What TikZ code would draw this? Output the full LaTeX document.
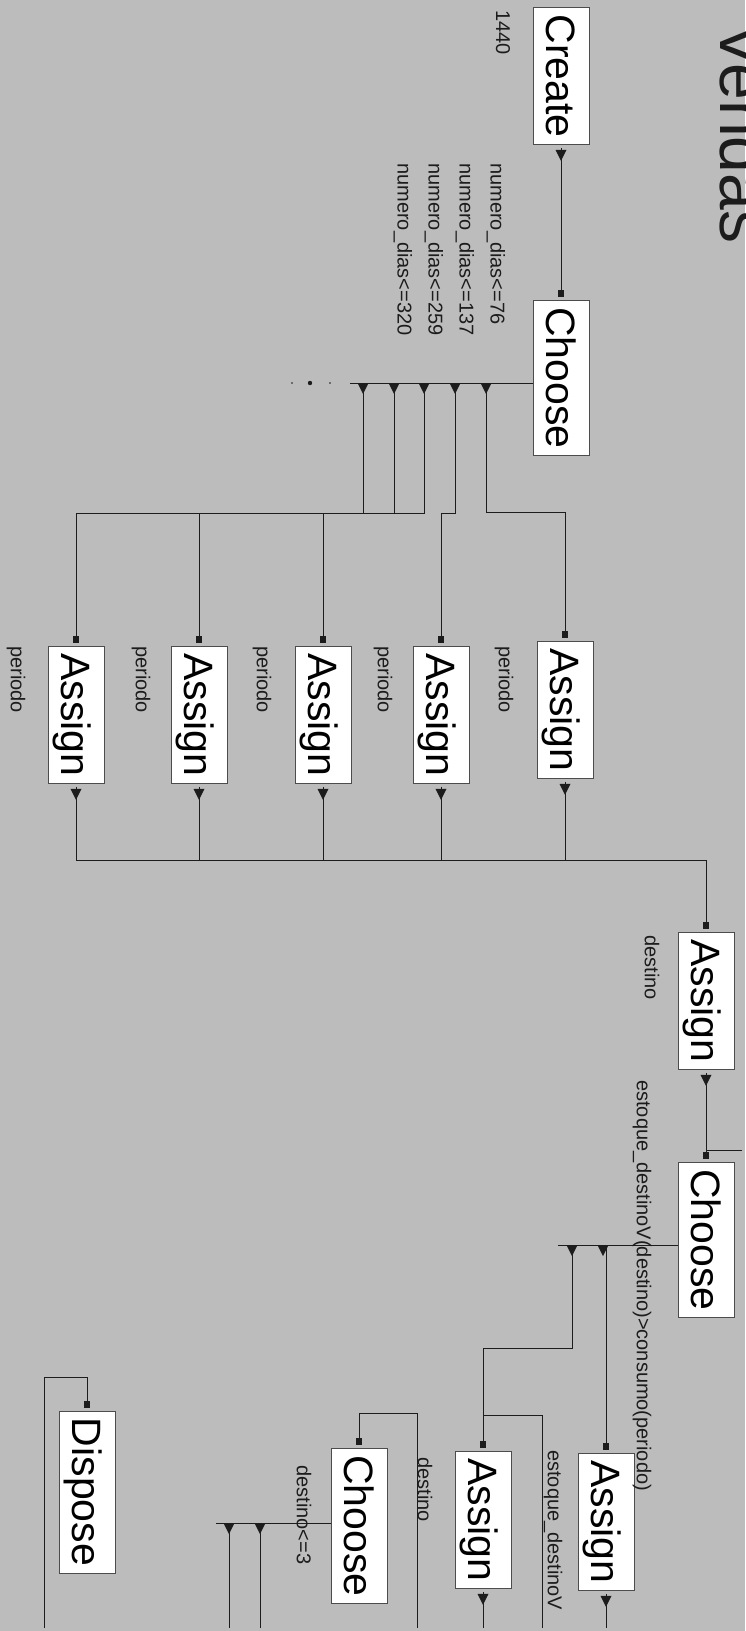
\documentclass[tikz,border=0pt]{standalone}
\usepackage{fontspec}
\setmainfont{Liberation Sans}
\usepackage{xcolor}
\usepackage{tikz}
\usetikzlibrary{calc}
\definecolor{papel}{RGB}{188,188,188}
\definecolor{tinta}{RGB}{28,28,28}
\newcommand{\fmod}{\fontsize{41}{41}\selectfont}
\newcommand{\flbl}{\fontsize{20}{20}\selectfont}
\newcommand{\ftit}{\fontsize{66}{66}\selectfont}

\begin{document}
\begin{tikzpicture}[x=1pt, y=1pt,
		modulo/.style={draw=black!70, line width=0.6pt, fill=white, rotate=-90, font=\fmod,
			inner xsep=7pt, inner ysep=0pt, text height=30pt, text depth=0pt, minimum height=56pt},
		rotulo/.style={rotate=-90, anchor=west, inner sep=0pt, font=\flbl, text=tinta},
		fluxo/.style={draw=tinta, line width=0.7pt, shorten <=3pt, shorten >=3pt},
		barra/.style={draw=tinta, line width=0.7pt},
		saida/.pic={\fill[tinta] (-5.5,0) -- (5.5,0) -- (0,-11) -- cycle;},
		entrada/.pic={\fill[tinta] (-3,3) rectangle (3,10);}]
		
		% 1. 纸面背景
		\useasboundingbox (0,0) rectangle (745,-1631);
		\clip (0,0) rectangle (745,-1631);
		\fill[papel] (0,0) rectangle (745,-1631);
		
		% 2. 标题 (被右边缘截断)
		\node[rotate=-90, anchor=south west, inner sep=0pt, font=\ftit, text=tinta] (titulo) at (720,-23) {Vendas};
		
		% 3. 模块方框
		\node[modulo] (create) at (561,-76) {Create};
		\node[modulo] (choose1) at (561,-378) {Choose};
		\node[modulo] (a1) at (565,-710) {Assign};
		\node[modulo] (a2) at (441,-715) {Assign};
		\node[modulo] (a3) at (323,-715) {Assign};
		\node[modulo] (a4) at (199,-715) {Assign};
		\node[modulo] (a5) at (76,-715) {Assign};
		\node[modulo] (a6) at (706,-1001) {Assign};
		\node[modulo] (choose2) at (706,-1240) {Choose};
		\node[modulo] (a7) at (606,-1522) {Assign};
		\node[modulo] (a8) at (483,-1520) {Assign};
		\node[modulo] (choose3) at (359,-1526) {Choose};
		\node[modulo] (dispose) at (87,-1492) {Dispose};
		
		% 4. 关键坐标点
		\coordinate (ch1fim) at (350,-383);      % 第一个 Choose 出口线末端
		\coordinate (ch2fim) at (558,-1245);     % 第二个 Choose 出口线末端
		\coordinate (ch3fim) at (216,-1523);     % 第三个 Choose 出口线末端
		\coordinate (junta) at (706,-860);       % 五个 Assign 汇合点
		\coordinate (borda) at (745,-1150);      % 右边缘进入的连线
		\coordinate (fundo) at (0,-1631);        % 下边缘
		\coordinate (b1) at (542,-1631);
		\coordinate (b2) at (417,-1631);
		\coordinate (b3) at (44,-1631);
		\foreach \i/\x in {1/486,2/455,3/424,4/394,5/363}
			\coordinate (s\i) at (\x,-383);
		\coordinate (t1) at (603,-1245);
		\coordinate (t2) at (572,-1245);
		\coordinate (u1) at (260,-1523);
		\coordinate (u2) at (229,-1523);
		
		% 5. Choose 出口线
		\draw[barra] (choose1.south |- ch1fim) -- (ch1fim);
		\draw[barra] (choose2.south |- ch2fim) -- (ch2fim);
		\draw[barra] (choose3.south |- ch3fim) -- (ch3fim);
		\fill[tinta] (330,-383) circle (0.8) (310,-383) circle (2.2) (292,-383) circle (0.8);
		
		% 6. 连接线
		\draw[fluxo] (create.east) -- (choose1.west);
		\draw[fluxo] (s1) -- ++(0,-129) -| (a1.west);
		\foreach \i in {2,...,5}
			\draw[fluxo] (s\i) -- ++(0,-130) -| (a\i.west);
		\foreach \i in {1,...,5}
			\draw[fluxo] (a\i.east) |- (junta) -- (a6.west);
		\draw[fluxo] (a6.east) -- (choose2.west);
		\draw[fluxo] (borda) -| (choose2.west);
		\draw[fluxo] (t1) -| (a7.west);
		\draw[fluxo] (t2) -- ++(0,-103) -| (a8.west);
		\draw[fluxo] (b1) -- ++(0,216) -| (a8.west);
		\draw[fluxo] (b2) -- ++(0,218) -| (choose3.west);
		\draw[fluxo] (b3) -- ++(0,254) -| (dispose.west);
		\draw[fluxo] (a7.east) -- (a7.east |- fundo);
		\draw[fluxo] (a8.east) -- (a8.east |- fundo);
		\draw[fluxo] (u1) -- (u1 |- fundo);
		\draw[fluxo] (u2) -- (u2 |- fundo);
		
		% 7. 出口三角与入口方块
		\foreach \p in {s1,s2,s3,s4,s5,t1,t2,u1,u2}
			\pic at (\p) {saida};
		\foreach \n in {create,a1,a2,a3,a4,a5,a6,a7,a8}
			\pic at ($(\n.east)+(0,-5)$) {saida};
		\foreach \n in {choose1,a1,a2,a3,a4,a5,a6,choose2,a7,a8,choose3,dispose}
			\pic at (\n.west) {entrada};
		
		% 8. 文字标注
		\node[rotulo] (l1440) at (503,-10) {1440};
		\node[rotulo] (c76) at (496,-163) {numero\_dias<=76};
		\node[rotulo] (c137) at (465,-163) {numero\_dias<=137};
		\node[rotulo] (c259) at (434,-163) {numero\_dias<=259};
		\node[rotulo] (c320) at (403,-163) {numero\_dias<=320};
		\foreach \x [count=\i] in {504,383,262,141,16}
			\node[rotulo] (per\i) at (\x,-646) {periodo};
		\node[rotulo] (dest1) at (652,-935) {destino};
		\node[rotulo] (cond2) at (642,-1080) {estoque\_destinoV(destino)>consumo(periodo)};
		\node[rotulo] (estq) at (553,-1450) {estoque\_destinoV};
		\node[rotulo] (dest2) at (425,-1457) {destino};
		\node[rotulo] (cond3) at (304,-1465) {destino<=3};
		
	\end{tikzpicture}
\end{document}
